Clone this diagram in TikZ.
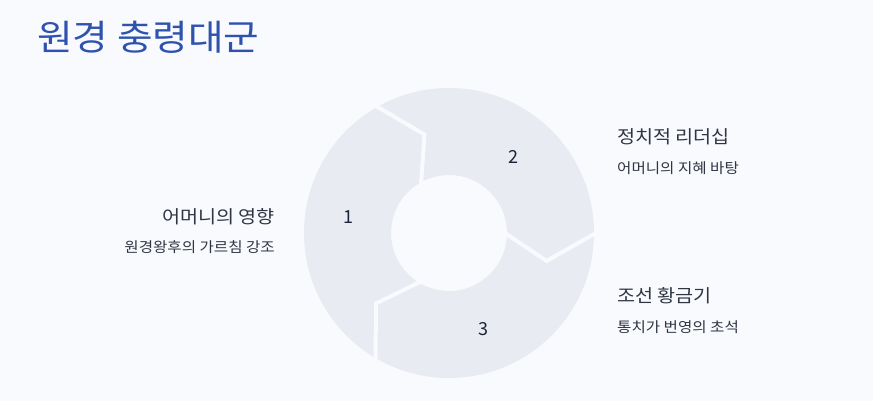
\documentclass[tikz,border=0pt]{standalone}
\usepackage{fontspec}
\setmainfont{Noto Sans CJK KR}[FakeStretch=1.09]
\newfontfamily\numfont{Noto Sans CJK KR}
\definecolor{bg}{HTML}{F9FAFD}
\definecolor{ringc}{HTML}{E8EBF2}
\definecolor{titlec}{HTML}{2E52AE}
\definecolor{headc}{HTML}{2F3543}
\definecolor{subc}{HTML}{2F3543}
\definecolor{numc}{HTML}{1C2238}
\tikzset{
  titletext/.style={font=\fontsize{35.5}{40}\selectfont, text=titlec, inner sep=0pt},
  headtext/.style={font=\fontsize{18}{21}\selectfont, text=headc, inner sep=0pt},
  subtext/.style={font=\fontsize{14.3}{17}\selectfont, text=subc, inner sep=0pt},
  numtext/.style={font=\numfont\fontsize{18}{22}\selectfont, text=numc, inner sep=0pt},
  sepline/.style={draw=bg, line width=4pt, line join=miter},
}
\begin{document}
\begin{tikzpicture}[x=1pt,y=-1pt]
\fill[bg] (0,0) rectangle (873,401);
\useasboundingbox (0,0) rectangle (873,401);
\node[titletext, anchor=west] (title) at (37,37) {원경 충령대군};
\begin{scope}[shift={(449,233)}]
  \fill[ringc, even odd rule] (0pt,0pt) circle[radius=145pt] (0pt,0pt) circle[radius=58pt];
  \coordinate (o1) at (120:147pt); \coordinate (t1) at (104:101.5pt); \coordinate (i1) at (120:56pt);
  \coordinate (o2) at (0:147pt);   \coordinate (t2) at (-16:101.5pt); \coordinate (i2) at (0:56pt);
  \coordinate (o3) at (240:147pt); \coordinate (t3) at (224:101.5pt); \coordinate (i3) at (240:56pt);
  \draw[sepline] (o1) -- (t1) -- (i1);
  \draw[sepline] (o2) -- (t2) -- (i2);
  \draw[sepline] (o3) -- (t3) -- (i3);
\end{scope}
\node[numtext] (n1) at (348,217) {1};
\node[numtext] (n2) at (513,157) {2};
\node[numtext] (n3) at (483,329) {3};
\node[headtext, anchor=east] (h1) at (275,217) {어머니의 영향};
\node[subtext, anchor=east] (s1) at (275,247) {원경왕후의 가르침 강조};
\node[headtext, anchor=west] (h2) at (617,137) {정치적 리더십};
\node[subtext, anchor=west] (s2) at (617,168) {어머니의 지혜 바탕};
\node[headtext, anchor=west] (h3) at (617,296) {조선 황금기};
\node[subtext, anchor=west] (s3) at (617,327) {통치가 번영의 초석};
\end{tikzpicture}
\end{document}
